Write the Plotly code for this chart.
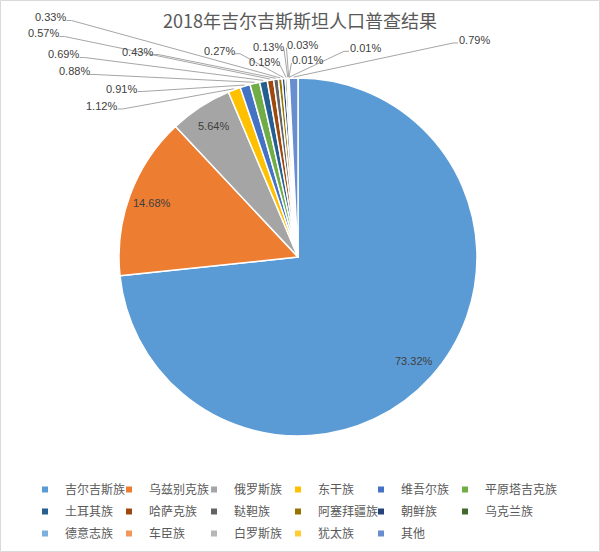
import math
import plotly.graph_objects as go

title_text = "2018年吉尔吉斯斯坦人口普查结果"
groups = ["吉尔吉斯族", "乌兹别克族", "俄罗斯族", "东干族", "维吾尔族", "平原塔吉克族",
          "土耳其族", "哈萨克族", "鞑靼族", "阿塞拜疆族", "朝鲜族", "乌克兰族",
          "德意志族", "车臣族", "白罗斯族", "犹太族", "其他"]
shares = [73.32, 14.68, 5.64, 1.12, 0.91, 0.88, 0.69, 0.57, 0.43, 0.33, 0.27, 0.18,
          0.13, 0.03, 0.01, 0.01, 0.79]
colors = ["#5B9BD5", "#ED7D31", "#A5A5A5", "#FFC000", "#4472C4", "#70AD47", "#255E91",
          "#9E480E", "#636363", "#997300", "#264478", "#43682B", "#7CAFDD", "#F1975A",
          "#B7B7B7", "#FFCD33", "#698ED0"]

# ---- layout (pixels) ----
W, H = 600, 552
ML, MR = 20, 20
PW = W - ML - MR
CX, CY, R = 298, 257, 179
INSIDE_FACTOR = 0.87
# label centres for the small slices (None => inside label)
label_pos = [None, None, None, (101.5, 106), (121.5, 88.5), (74, 71.5), (63.5, 54.5),
             (43.5, 33.5), (137, 51.5), (50.5, 17.5), (219, 50.7), (264, 62),
             (268, 46.7), (302.5, 44.7), (307.5, 60), (365, 48.3), (474, 40)]
# legend columns: left edge of each column's text (px), top of legend block
legend_text_x = [65, 149, 234, 318, 401, 485]
LEGEND_TOP = 475
N_COLS = 6


def px_x(x):
    return (x - ML) / PW


def px_y(y):
    return 1 - y / H


fig = go.Figure()
fig.add_trace(go.Pie(
    labels=groups, values=shares, sort=False, direction="clockwise", rotation=0,
    marker=dict(colors=colors, line=dict(color="white", width=1.5)),
    textinfo="none", hoverinfo="label+percent", showlegend=False,
    domain=dict(x=[px_x(CX - R), px_x(CX + R)], y=[px_y(CY + R), px_y(CY - R)]),
))
# legend entries (small square swatches like the original), one legend per column
for k, (g, c) in enumerate(zip(groups, colors)):
    col = k % N_COLS
    fig.add_trace(go.Scatter(x=[None], y=[None], mode="markers", name=g,
                             marker=dict(symbol="square", size=6, color=c),
                             legend="legend" if col == 0 else f"legend{col + 1}",
                             legendgroup=g, showlegend=True, hoverinfo="skip"))

total = sum(shares)
annotations = []
shapes = []
cum = 0.0
label_font = dict(family="Liberation Sans, Arial", size=11, color="#404040")
for i, v in enumerate(shares):
    mid = (cum + v / 2) / total
    cum += v
    th = 2 * math.pi * mid
    txt = f"{v:.2f}%"
    if label_pos[i] is None:
        lx = CX + INSIDE_FACTOR * R * math.sin(th)
        ly = CY - INSIDE_FACTOR * R * math.cos(th)
        annotations.append(dict(x=px_x(lx), y=px_y(ly), xref="paper", yref="paper",
                                text=txt, showarrow=False, xanchor="center", yanchor="middle",
                                font=label_font))
        continue
    lx, ly = label_pos[i]
    ax = CX + (R + 1) * math.sin(th)
    ay = CY - (R + 1) * math.cos(th)
    annotations.append(dict(x=px_x(lx), y=px_y(ly), xref="paper", yref="paper",
                            text=txt, showarrow=False, xanchor="center", yanchor="middle",
                            font=label_font))
    half = 16
    sx = lx + half if lx < ax else lx - half
    sy = ly + 3
    pts = [(sx, sy)]
    if abs(ax - sx) > 20:
        ex = sx + (5 if lx < ax else -5)
        pts.append((ex, sy))
    pts.append((ax, ay))
    path = "M " + " L ".join(f"{px_x(x):.5f},{px_y(y):.5f}" for x, y in pts)
    shapes.append(dict(type="path", path=path, xref="paper", yref="paper",
                       line=dict(color="#A6A6A6", width=1)))

# outer frame
shapes.append(dict(type="rect", xref="paper", yref="paper",
                   x0=px_x(0.5), x1=px_x(W - 0.5), y0=px_y(H - 0.5), y1=px_y(0.5),
                   line=dict(color="#D9D9D9", width=1), fillcolor="rgba(0,0,0,0)"))

legend_font = dict(family="Noto Sans CJK SC", size=12, color="#595959")
legends = {}
for col in range(N_COLS):
    key = "legend" if col == 0 else f"legend{col + 1}"
    legends[key] = dict(orientation="v", x=px_x(legend_text_x[col] - 40), xanchor="left",
                        y=px_y(LEGEND_TOP), yanchor="top", tracegroupgap=3,
                        traceorder="grouped", font=legend_font,
                        bgcolor="rgba(0,0,0,0)")

fig.update_layout(
    width=W, height=H,
    margin=dict(l=ML, r=MR, t=0, b=0, autoexpand=False),
    paper_bgcolor="white", plot_bgcolor="white",
    xaxis=dict(visible=False), yaxis=dict(visible=False),
    title=dict(text=title_text, x=0.5, xanchor="center", y=1 - 22 / H, yanchor="middle",
               font=dict(family="Noto Sans CJK SC", size=18, color="#595959")),
    showlegend=True,
    annotations=annotations,
    shapes=shapes,
    **legends,
)

fig.write_html("out.html")
